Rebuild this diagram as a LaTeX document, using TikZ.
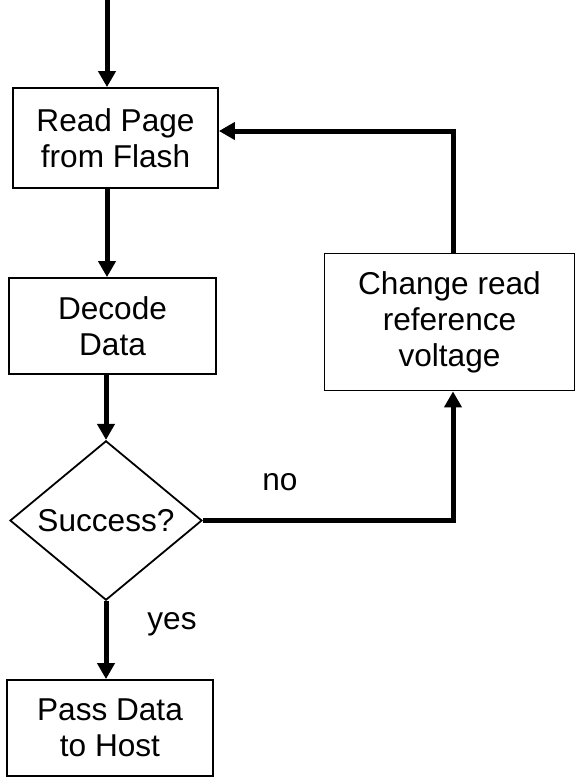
\documentclass[tikz,border=0pt]{standalone}
\usepackage{fontspec}
\setmainfont{Liberation Sans}
\usetikzlibrary{arrows.meta}
\usetikzlibrary{shapes.geometric}

\tikzset{
  stepbox/.style={draw, line width=1.8pt, rectangle, align=center,
    font=\fontsize{31.6}{36}\selectfont},
  testbox/.style={draw, line width=1.8pt, diamond, inner sep=0pt,
    minimum width=192pt, minimum height=143pt,
    font=\fontsize{31.6}{36}\selectfont},
  flow/.style={line width=5pt, -{Triangle[length=16pt,width=17pt]}},
  lbl/.style={font=\fontsize{31.6}{36}\selectfont}
}

\begin{document}
\begin{tikzpicture}[x=1pt, y=-1pt]
          \useasboundingbox (0,0) rectangle (576,777);

          % boxes, placed in pixel coordinates
          \node[stepbox, minimum width=205pt, minimum height=100pt] (read) at (115.5,138) {Read Page\\from Flash};
          \node[stepbox, minimum width=207pt, minimum height=96pt] (decode) at (112.5,326) {Decode\\Data};
          \node[testbox] (success) at (106,520.5) {Success?};
          \node[stepbox, minimum width=206pt, minimum height=96pt] (pass) at (110,728) {Pass Data\\to Host};
          \node[stepbox, minimum width=250pt, minimum height=137pt] (change) at (449.5,322) {Change read\\reference\\voltage};

          \coordinate (top) at (107,0);
          \coordinate (loop) at (453,322);

          % main column
          \draw[flow] (top) -- (top |- read.north);
          \draw[flow] (read.south -| top) -- (decode.north -| top);
          \draw[flow] (decode.south -| success.north) -- (success.north);
          \draw[flow] (success.south) -- (pass.north -| success.south);

          % retry loop
          \draw[flow] (success.east) -| (loop |- change.south);
          \draw[flow] (loop |- change.north) |- ([yshift=7pt]read.east);

          \node[lbl] (no) at (280,482) {no};
          \node[lbl] (yes) at (172,624) {yes};

        \end{tikzpicture}
\end{document}
